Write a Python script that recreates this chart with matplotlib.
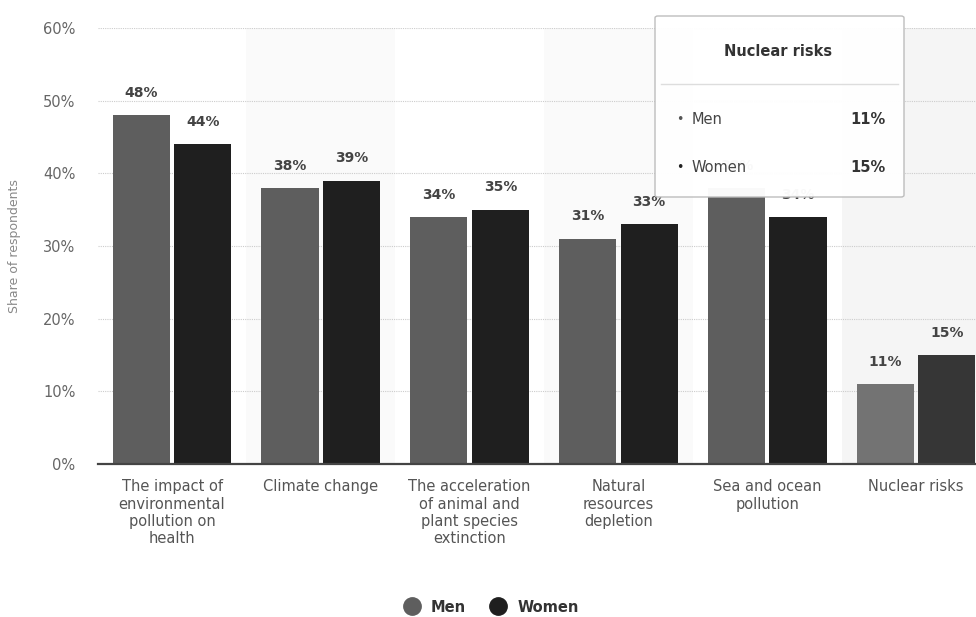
import matplotlib.pyplot as plt
from matplotlib.lines import Line2D
from matplotlib.patches import FancyBboxPatch
import numpy as np

# survey data: share of respondents by concern
categories = ["The impact of\nenvironmental\npollution on\nhealth",
              "Climate change",
              "The acceleration\nof animal and\nplant species\nextinction",
              "Natural\nresources\ndepletion",
              "Sea and ocean\npollution",
              "Nuclear risks"]
men = [48, 38, 34, 31, 38, 11]
women = [44, 39, 35, 33, 34, 15]
yticks = [0, 10, 20, 30, 40, 50, 60]
hover_idx = 5  # column under the tooltip

fig = plt.figure(figsize=(9.76, 6.17), dpi=100)
ax = fig.add_axes([97.6 / 976, 153 / 617, 878.4 / 976, 436 / 617])

x = np.arange(len(categories))
w = 0.385
off = 0.207

# alternating background bands
for i in range(1, len(categories), 2):
    ax.axvspan(i - 0.5, i + 0.5, color='#f5f5f5' if i == hover_idx else '#fafafa', zorder=0, lw=0)

men_cols = ['#737373' if i == hover_idx else '#5e5e5e' for i in x]
women_cols = ['#363636' if i == hover_idx else '#1f1f1f' for i in x]
b1 = ax.bar(x - off, men, w, color=men_cols, zorder=3)
b2 = ax.bar(x + off, women, w, color=women_cols, zorder=3)

for bars, vals in ((b1, men), (b2, women)):
    for b, v in zip(bars, vals):
        ax.annotate(f"{v}%", (b.get_x() + b.get_width() / 2, v), xytext=(0, 11),
                    textcoords='offset points', ha='center', va='bottom',
                    fontsize=10, fontweight='bold', color='#444444', zorder=4)

ax.set_xlim(-0.5, 5.403)
ax.set_ylim(0, 60)
ax.set_yticks(yticks)
ax.set_yticklabels([f"{t}%" for t in yticks], fontsize=10.5, color='#666666')
ax.yaxis.grid(True, linestyle=(0, (1, 1)), color='#cccccc', lw=0.8, zorder=1)
ax.set_axisbelow(True)
ax.set_xticks(x)
ax.set_xticklabels(categories, fontsize=10.5, color='#555555', linespacing=1.2)
ax.tick_params(axis='x', length=0, pad=11)
ax.tick_params(axis='y', length=0, pad=16)
for s in ('top', 'right', 'left'):
    ax.spines[s].set_visible(False)
ax.spines['bottom'].set_color('#444444')
ax.spines['bottom'].set_linewidth(1.6)
ax.spines['bottom'].set_zorder(5)
ax.set_ylabel("Share of respondents", fontsize=9, color='#888888')
ax.yaxis.set_label_coords(-77 / 878.4, 0.5)

# legend
handles = [Line2D([], [], marker='o', ls='', markersize=12.5, color='#5e5e5e'),
           Line2D([], [], marker='o', ls='', markersize=12.5, color='#1f1f1f')]
fig.legend(handles, ['Men', 'Women'], loc='center', bbox_to_anchor=(0.5, 1 - 607 / 617),
           ncol=2, frameon=False, prop={'weight': 'bold', 'size': 10.5},
           handletextpad=0.3, columnspacing=1.2, labelcolor='#333333')

# tooltip for the hovered column
x0, x1 = 655 / 976, 904 / 976
y0, y1 = 1 - 197 / 617, 1 - 16 / 617
tip = FancyBboxPatch((x0, y0), x1 - x0, y1 - y0, boxstyle='round,pad=0,rounding_size=0.003',
                     transform=fig.transFigure, facecolor='white', edgecolor='#bbbbbb',
                     lw=1, alpha=0.97, zorder=10)
fig.patches.append(tip)
fig.add_artist(Line2D([661 / 976, 898 / 976], [1 - 84 / 617] * 2, color='#dddddd', lw=1,
                      transform=fig.transFigure, zorder=11))
fig.text(778 / 976, 1 - 51 / 617, categories[hover_idx], ha='center', va='center',
         fontsize=10.5, fontweight='bold', color='#333333', zorder=12)
for row_y, name, val in ((120, 'Men', men[hover_idx]), (167, 'Women', women[hover_idx])):
    fig.text(676 / 976, 1 - row_y / 617, '•', ha='left', va='center', fontsize=9,
             color='#555555' if name == 'Men' else '#222222', zorder=12)
    fig.text(692 / 976, 1 - row_y / 617, name, ha='left', va='center', fontsize=10.5,
             color='#444444', zorder=12)
    fig.text(886 / 976, 1 - row_y / 617, f"{val}%", ha='right', va='center', fontsize=10.5,
             fontweight='bold', color='#333333', zorder=12)

fig.savefig('out.png', dpi=100, facecolor='white')
